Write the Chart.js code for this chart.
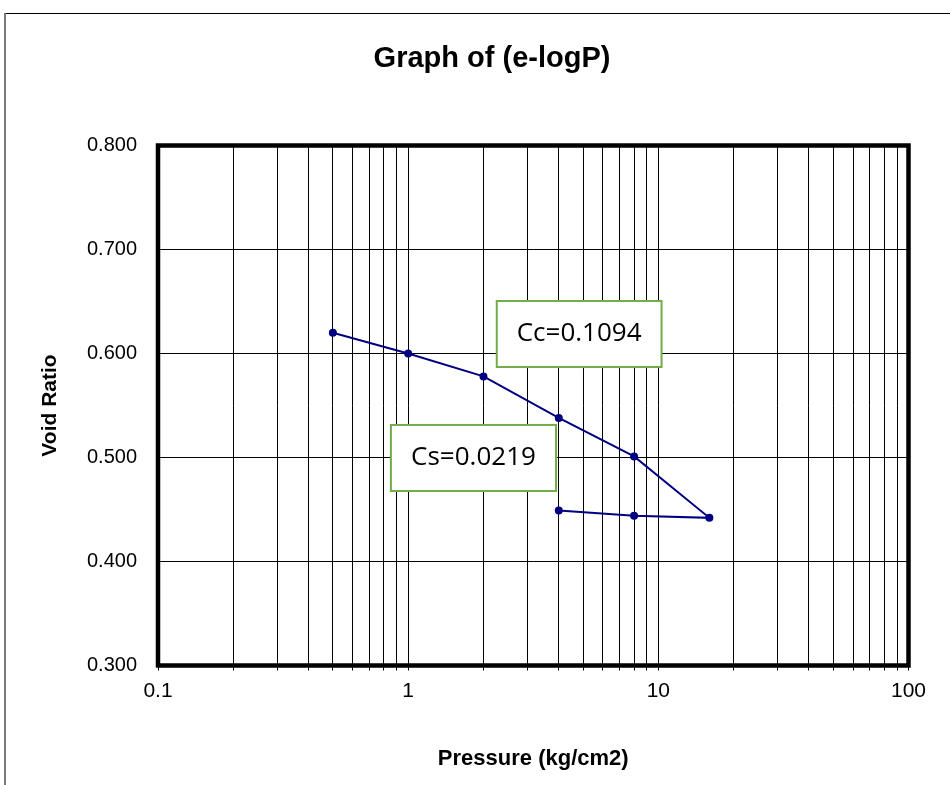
<!DOCTYPE html>
<html>
<head>
<meta charset="utf-8">
<title>Graph of (e-logP)</title>
<script src="https://cdn.jsdelivr.net/npm/chart.js@4/dist/chart.umd.min.js"></script>
<style>
  html, body { margin: 0; padding: 0; background: #fff; }
  #wrap { width: 950px; height: 785px; }
</style>
</head>
<body>
<div id="wrap"><canvas id="chart" width="950" height="785"></canvas></div>
<script>
// Consolidation test: pressure steps (loading then unloading) and void ratio
const pressure = [0.5, 1, 2, 4, 8, 16, 8, 4];
const voidRatio = [0.620, 0.600, 0.578, 0.538, 0.501, 0.442, 0.444, 0.449];

// Axis labels
const chartTitle = 'Graph of (e-logP)';
const xAxisTitle = 'Pressure (kg/cm2)';
const yAxisTitle = 'Void Ratio';
const xMajorTicks = [0.1, 1, 10, 100];
const xTickLabels = ['0.1', '1', '10', '100'];
const yTickValues = [0.3, 0.4, 0.5, 0.6, 0.7, 0.8];

// Index text boxes
const indexLabels = ['Cc=0.1094', 'Cs=0.0219'];

// Log grid: 1..9 within each decade, plus the last major
const xGridValues = [];
for (let d = 0; d < xMajorTicks.length - 1; d++) {
  for (let m = 1; m <= 9; m++) xGridValues.push(+(xMajorTicks[d] * m).toPrecision(6));
}
xGridValues.push(xMajorTicks[xMajorTicks.length - 1]);

// Box placement in data units (x: pressure, y: void ratio)
const boxPlacement = [
  { xMin: 2.26, xMax: 10.3, yMin: 0.587, yMax: 0.6505 },
  { xMin: 0.853, xMax: 3.90, yMin: 0.4678, yMax: 0.5313 }
];

const W = 950, H = 785;
const AREA = { left: 158, right: 908.5, top: 145.5, bottom: 665.5 };
const FONT = '"Liberation Sans", Arial, sans-serif';

const pageDecor = {
  id: 'pageDecor',
  beforeDraw(chart) {
    const ctx = chart.ctx;
    ctx.save();
    ctx.fillStyle = '#fff';
    ctx.fillRect(0, 0, W, H);
    // outer chart frame (top and left edges)
    ctx.strokeStyle = '#000';
    ctx.lineWidth = 1;
    ctx.beginPath();
    ctx.moveTo(4, 13.5);
    ctx.lineTo(W, 13.5);
    ctx.stroke();
    ctx.strokeStyle = '#7a7a7a';
    ctx.lineWidth = 2;
    ctx.beginPath();
    ctx.moveTo(5, 13);
    ctx.lineTo(5, H);
    ctx.stroke();
    // chart title
    ctx.fillStyle = '#000';
    ctx.font = 'bold 29px ' + FONT;
    ctx.textAlign = 'center';
    ctx.textBaseline = 'middle';
    ctx.fillText(chartTitle, 492, 59);
    ctx.restore();
  },
  beforeDatasetsDraw(chart) {
    const { ctx, chartArea: a } = chart;
    ctx.save();
    ctx.strokeStyle = '#000';
    ctx.lineWidth = 4.5;
    ctx.strokeRect(a.left, a.top, a.right - a.left, a.bottom - a.top);
    ctx.restore();
  },
  afterDatasetsDraw(chart) {
    const { ctx, scales: { x, y } } = chart;
    ctx.save();
    boxPlacement.forEach((b, i) => {
      const l = x.getPixelForValue(b.xMin), r = x.getPixelForValue(b.xMax);
      const t = y.getPixelForValue(b.yMax), btm = y.getPixelForValue(b.yMin);
      ctx.fillStyle = '#fff';
      ctx.fillRect(l, t, r - l, btm - t);
      ctx.strokeStyle = '#70ad47';
      ctx.lineWidth = 2;
      ctx.strokeRect(l, t, r - l, btm - t);
      ctx.fillStyle = '#000';
      ctx.font = '26px "Open Sans", sans-serif';
      ctx.textAlign = 'center';
      ctx.textBaseline = 'middle';
      ctx.fillText(indexLabels[i], (l + r) / 2, (t + btm) / 2);
    });
    ctx.restore();
  }
};

new Chart(document.getElementById('chart'), {
  type: 'scatter',
  data: {
    datasets: [{
      data: pressure.map((p, i) => ({ x: p, y: voidRatio[i] })),
      showLine: true,
      borderColor: '#000080',
      borderWidth: 2,
      backgroundColor: '#000080',
      pointBackgroundColor: '#000080',
      pointBorderWidth: 0,
      pointRadius: 4,
      pointHoverRadius: 4,
      tension: 0
    }]
  },
  options: {
    responsive: false,
    animation: false,
    devicePixelRatio: 1,
    layout: { padding: { top: AREA.top, right: W - AREA.right, bottom: 0, left: 0 } },
    plugins: { legend: { display: false }, tooltip: { enabled: false }, title: { display: false } },
    scales: {
      x: {
        type: 'logarithmic',
        min: xMajorTicks[0],
        max: xMajorTicks[xMajorTicks.length - 1],
        afterBuildTicks(scale) {
          scale.ticks = xGridValues.map(v => ({ value: v }));
        },
        afterFit(scale) { scale.height = H - AREA.bottom; },
        ticks: {
          autoSkip: false,
          maxRotation: 0,
          minRotation: 0,
          padding: 8,
          color: '#000',
          font: { family: FONT, size: 21 },
          callback(value) {
            const i = xMajorTicks.findIndex(m => Math.abs(m - value) < 1e-9);
            return i >= 0 ? xTickLabels[i] : '';
          }
        },
        grid: { color: '#000', lineWidth: 1, drawTicks: true, tickLength: 5, tickColor: '#000' },
        border: { display: false },
        title: {
          display: true,
          text: xAxisTitle,
          color: '#000',
          font: { family: FONT, size: 22, weight: 'bold' },
          padding: { top: 0, bottom: 13 }
        }
      },
      y: {
        type: 'linear',
        min: yTickValues[0],
        max: yTickValues[yTickValues.length - 1],
        afterBuildTicks(scale) {
          scale.ticks = yTickValues.map(v => ({ value: v }));
        },
        afterFit(scale) { scale.width = AREA.left; },
        ticks: {
          padding: 21,
          color: '#000',
          font: { family: FONT, size: 20 },
          callback(value) { return Number(value).toFixed(3); }
        },
        grid: { color: '#000', lineWidth: 1, drawTicks: false },
        border: { display: false },
        title: {
          display: true,
          text: yAxisTitle,
          color: '#000',
          font: { family: FONT, size: 21, weight: 'bold' },
          padding: { top: 38, bottom: 0 }
        }
      }
    }
  },
  plugins: [pageDecor]
});
</script>
</body>
</html>
